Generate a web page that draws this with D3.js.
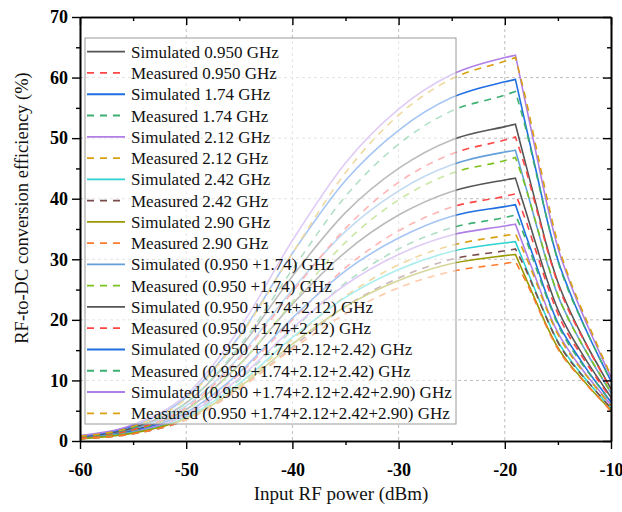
<!DOCTYPE html>
<html>
<head>
<meta charset="utf-8">
<script src="https://cdn.jsdelivr.net/npm/d3@7"></script>
<style>
  body { margin: 0; background: #fff; }
  svg text { font-family: "Liberation Serif", "Times New Roman", serif; }
</style>
</head>
<body>
<svg id="chart" width="622" height="512"></svg>
<script>
// Input power sweep (dBm)
const powerDbm = [-60, -55, -50, -45, -40, -35, -30, -25, -20, -19, -18, -17, -16, -15, -14, -13, -12, -11, -10];
const peakIndex = 9; // efficiency maximum at -19 dBm, steep roll-off afterwards

// RF-to-DC conversion efficiency (%)
const sim0950   = [0.6, 1.8, 5.2, 12.6, 22.6, 31.2, 37.3, 41.2, 43.1, 43.4, 37.8, 32.1, 26.5, 21.7, 18.2, 15.2, 12.4, 9.8, 7.2];
const meas0950  = [0.5, 1.6, 4.5, 11.0, 20.0, 28.6, 34.7, 38.6, 40.4, 40.8, 36.3, 31.0, 25.7, 21.0, 17.5, 14.7, 12.0, 9.5, 6.9];
const sim174    = [0.5, 1.6, 4.7, 11.3, 20.3, 28.1, 33.5, 37.1, 38.7, 39.0, 33.9, 28.9, 23.8, 19.5, 16.4, 13.7, 11.1, 8.8, 6.4];
const meas174   = [0.4, 1.4, 4.1, 10.1, 18.3, 26.1, 31.7, 35.2, 36.9, 37.3, 33.2, 28.3, 23.5, 19.2, 16.0, 13.4, 11.0, 8.7, 6.3];
const sim212    = [0.5, 1.5, 4.3, 10.4, 18.6, 25.8, 30.8, 34.0, 35.5, 35.8, 31.1, 26.5, 21.8, 17.9, 15.0, 12.5, 10.2, 8.1, 5.9];
const meas212   = [0.4, 1.3, 3.8, 9.2, 16.8, 23.9, 29.1, 32.3, 33.9, 34.2, 30.4, 26.0, 21.5, 17.6, 14.7, 12.3, 10.1, 7.9, 5.8];
const sim242    = [0.5, 1.4, 3.9, 9.5, 17.1, 23.7, 28.3, 31.3, 32.7, 32.9, 28.6, 24.3, 20.1, 16.4, 13.8, 11.5, 9.4, 7.4, 5.4];
const meas242   = [0.4, 1.2, 3.5, 8.6, 15.5, 22.2, 26.9, 30.0, 31.4, 31.7, 28.2, 24.1, 20.0, 16.3, 13.6, 11.4, 9.4, 7.4, 5.4];
const sim290    = [0.4, 1.3, 3.7, 8.9, 16.0, 22.2, 26.5, 29.3, 30.6, 30.8, 26.8, 22.8, 18.8, 15.4, 12.9, 10.8, 8.8, 6.9, 5.1];
const meas290   = [0.4, 1.2, 3.5, 8.6, 15.2, 21.0, 25.3, 28.0, 29.3, 29.6, 26.3, 22.5, 18.6, 15.2, 12.7, 10.7, 8.7, 6.9, 4.9];
const sim2tone  = [0.7, 2.0, 5.8, 13.9, 25.0, 34.6, 41.3, 45.6, 47.7, 48.0, 41.8, 35.5, 29.3, 24.0, 20.2, 16.8, 13.7, 10.8, 7.9];
const meas2tone = [0.6, 1.8, 5.1, 12.6, 22.9, 32.8, 39.8, 44.2, 46.3, 46.8, 41.7, 35.6, 29.5, 24.1, 20.1, 16.8, 13.8, 10.9, 8.0];
const sim3tone  = [0.7, 2.2, 6.3, 15.2, 27.2, 37.7, 45.0, 49.7, 51.9, 52.3, 45.5, 38.7, 31.9, 26.2, 22.0, 18.3, 14.9, 11.8, 8.6];
const meas3tone = [0.6, 1.9, 5.5, 13.6, 24.6, 35.1, 42.7, 47.4, 49.7, 50.2, 44.7, 38.2, 31.6, 25.9, 21.6, 18.1, 14.8, 11.6, 8.5];
const sim4tone  = [0.8, 2.5, 7.2, 17.3, 31.0, 43.0, 51.3, 56.7, 59.3, 59.7, 51.9, 44.2, 36.4, 29.9, 25.1, 20.9, 17.0, 13.4, 9.9];
const meas4tone = [0.7, 2.2, 6.3, 15.6, 28.3, 40.4, 49.0, 54.5, 57.1, 57.7, 51.4, 43.9, 36.4, 29.7, 24.8, 20.8, 17.0, 13.4, 9.8];
const sim5tone  = [0.9, 2.7, 7.6, 18.5, 33.1, 45.9, 54.8, 60.5, 63.3, 63.7, 55.4, 47.1, 38.9, 31.9, 26.8, 22.3, 18.2, 14.3, 10.5];
const meas5tone = [0.8, 2.4, 7.0, 17.1, 31.0, 44.3, 53.8, 59.8, 62.7, 63.3, 56.3, 48.1, 39.9, 32.6, 27.2, 22.8, 18.7, 14.7, 10.8];

const seriesLabels = [
  "Simulated 0.950 GHz", "Measured 0.950 GHz",
  "Simulated 1.74 GHz", "Measured 1.74 GHz",
  "Simulated 2.12 GHz", "Measured 2.12 GHz",
  "Simulated 2.42 GHz", "Measured 2.42 GHz",
  "Simulated 2.90 GHz", "Measured 2.90 GHz",
  "Simulated (0.950 +1.74) GHz", "Measured (0.950 +1.74) GHz",
  "Simulated (0.950 +1.74+2.12) GHz", "Measured (0.950 +1.74+2.12) GHz",
  "Simulated (0.950 +1.74+2.12+2.42) GHz", "Measured (0.950 +1.74+2.12+2.42) GHz",
  "Simulated (0.950 +1.74+2.12+2.42+2.90) GHz", "Measured (0.950 +1.74+2.12+2.42+2.90) GHz"
];
const seriesValues = [sim0950, meas0950, sim174, meas174, sim212, meas212, sim242, meas242,
  sim290, meas290, sim2tone, meas2tone, sim3tone, meas3tone, sim4tone, meas4tone, sim5tone, meas5tone];
const seriesColors = ["#555555", "#ff4646", "#1f6fe0", "#3cb071", "#b07fe6", "#d9a012",
  "#2ed2d2", "#7a4b4b", "#999a00", "#ff7b2e", "#64a0dc", "#7cc21e",
  "#555555", "#ff4646", "#1f6fe0", "#3cb071", "#b07fe6", "#d9a012"];

const xTicks = [-60, -50, -40, -30, -20, -10];
const xMinorTicks = [-55, -45, -35, -25, -15];
const yTicks = [0, 10, 20, 30, 40, 50, 60, 70];
const yMinorTicks = [5, 15, 25, 35, 45, 55, 65];

const SERIF = '"Liberation Serif", "Times New Roman", serif';
const svg = d3.select("#chart");
const L = 80, R = 611, T = 17, B = 441;
const x = d3.scaleLinear().domain([-60, -10]).range([L, R]);
const y = d3.scaleLinear().domain([0, 70]).range([B, T]);

// grid
const grid = svg.append("g").attr("stroke", "#bdbdbd").attr("stroke-width", 1).attr("stroke-dasharray", "3,3");
xTicks.slice(1, -1).forEach(v => grid.append("line").attr("x1", x(v)).attr("x2", x(v)).attr("y1", T).attr("y2", B));
yTicks.slice(1, -1).forEach(v => grid.append("line").attr("x1", L).attr("x2", R).attr("y1", y(v)).attr("y2", y(v)));

// curves: rising branch and roll-off branch joined at the peak
const seg = d3.line().x(d => x(d[0])).y(d => y(d[1])).curve(d3.curveMonotoneX);
const curves = svg.append("g").attr("fill", "none");
seriesValues.forEach((vals, i) => {
  const pts = powerDbm.map((p, k) => [p, vals[k]]);
  const rise = seg(pts.slice(0, peakIndex + 1));
  const fall = seg(pts.slice(peakIndex)).replace(/^M[^A-Za-z]*/, "");
  curves.append("path")
    .attr("d", rise + fall)
    .attr("stroke", seriesColors[i])
    .attr("stroke-width", 1.6)
    .attr("stroke-dasharray", i % 2 ? "7,6" : null);
});

// legend (semi-transparent background)
const lg = svg.append("g");
lg.append("rect").attr("x", 85).attr("y", 38).attr("width", 371).attr("height", 386)
  .attr("fill", "#fff").attr("fill-opacity", 0.6).attr("stroke", "#9a9a9a").attr("stroke-width", 1);
seriesLabels.forEach((lab, i) => {
  const cy = 51.7 + i * 21.27;
  lg.append("line").attr("x1", 87).attr("x2", 125).attr("y1", cy).attr("y2", cy)
    .attr("stroke", seriesColors[i]).attr("stroke-width", 1.8)
    .attr("stroke-dasharray", i % 2 ? "7,6" : null);
  lg.append("text").attr("x", 131).attr("y", cy + 6).style("font-family", SERIF)
    .attr("font-size", 17).attr("fill", "#111").text(lab);
});

// axes
function styleAxis(g) {
  g.selectAll(".domain").attr("stroke", "#000").attr("stroke-width", 1.6);
  g.selectAll(".tick line").attr("stroke", "#000").attr("stroke-width", 1.4);
  g.selectAll(".tick text").style("font-family", SERIF).attr("font-size", 18)
    .attr("font-weight", "bold").attr("fill", "#000");
}
const fmt = d => String(d);
svg.append("g").attr("transform", `translate(0,${B})`)
  .call(d3.axisBottom(x).tickValues(xTicks).tickFormat(fmt).tickSize(8).tickSizeOuter(0).tickPadding(14)).call(styleAxis);
svg.append("g").attr("transform", `translate(0,${B})`)
  .call(d3.axisBottom(x).tickValues(xMinorTicks).tickFormat("").tickSize(4).tickSizeOuter(0)).call(styleAxis);
svg.append("g").attr("transform", `translate(${L},0)`)
  .call(d3.axisLeft(y).tickValues(yTicks).tickFormat(fmt).tickSize(8).tickSizeOuter(0).tickPadding(4)).call(styleAxis);
svg.append("g").attr("transform", `translate(${L},0)`)
  .call(d3.axisLeft(y).tickValues(yMinorTicks).tickFormat("").tickSize(4).tickSizeOuter(0)).call(styleAxis);
svg.append("g").attr("transform", `translate(0,${T})`)
  .call(d3.axisBottom(x).tickValues(xTicks).tickFormat("").tickSize(8).tickSizeOuter(0)).call(styleAxis);
svg.append("g").attr("transform", `translate(0,${T})`)
  .call(d3.axisBottom(x).tickValues(xMinorTicks).tickFormat("").tickSize(4).tickSizeOuter(0)).call(styleAxis);
svg.append("g").attr("transform", `translate(${R},0)`)
  .call(d3.axisLeft(y).tickValues(yTicks).tickFormat("").tickSize(8).tickSizeOuter(0)).call(styleAxis);
svg.append("g").attr("transform", `translate(${R},0)`)
  .call(d3.axisLeft(y).tickValues(yMinorTicks).tickFormat("").tickSize(4).tickSizeOuter(0)).call(styleAxis);

// axis titles
svg.append("text").attr("x", 341).attr("y", 500).attr("text-anchor", "middle").style("font-family", SERIF)
  .attr("font-size", 19).attr("fill", "#111").text("Input RF power (dBm)");
svg.append("text").attr("transform", "translate(28,208) rotate(-90)").attr("text-anchor", "middle").style("font-family", SERIF)
  .attr("font-size", 18.5).attr("fill", "#111").text("RF-to-DC conversion efficiency (%)");
</script>
</body>
</html>
